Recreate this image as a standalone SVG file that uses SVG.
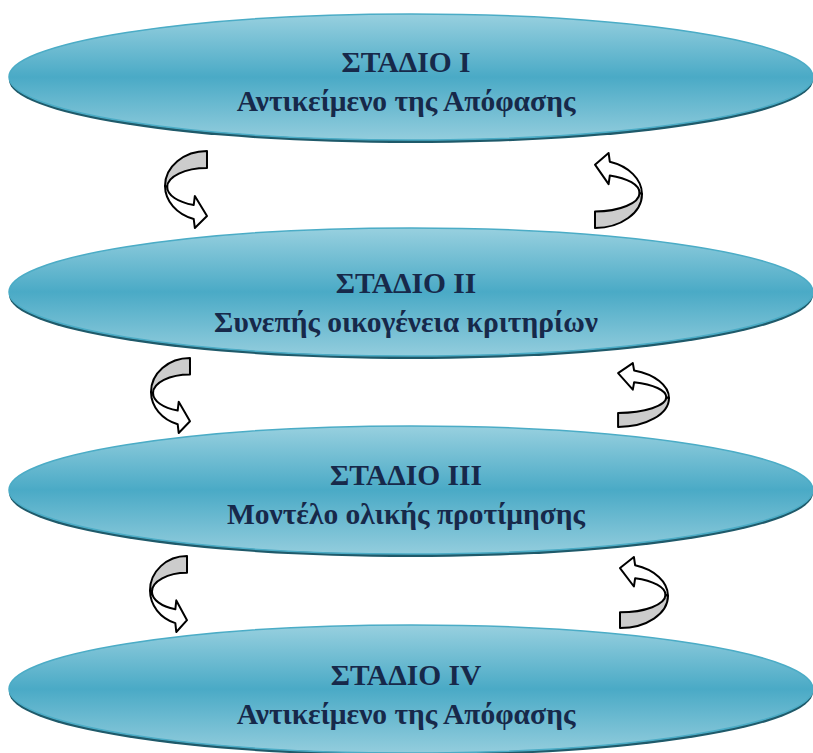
<svg xmlns="http://www.w3.org/2000/svg" width="813" height="753" viewBox="0 0 813 753">
<style>
.shadow{fill:#1f5a6a}
.stage{fill:url(#g);stroke:#4bacc6;stroke-width:1.5}
.t{font-family:"Liberation Serif","DejaVu Serif",serif;font-weight:bold;font-size:29.5px;fill:#17294a;text-anchor:middle}
.back{fill:#cccccc;stroke:#000;stroke-width:2;stroke-linejoin:round;vector-effect:non-scaling-stroke}
.front{fill:#ffffff;stroke:#000;stroke-width:2;stroke-linejoin:round;vector-effect:non-scaling-stroke}
</style>
<defs>
<linearGradient id="g" x1="0" y1="0" x2="0" y2="1">
<stop offset="0" stop-color="#98d0df"/>
<stop offset="0.5" stop-color="#4aaac6"/>
<stop offset="1" stop-color="#93cddd"/>
</linearGradient>
<g id="arr">
<path class="back" d="M38,0 A38,35 0 0 0 0,35 L2,36 A36,19 0 0 1 38,17 Z"/>
<path class="front" d="M0,35 A38,35 0 0 0 26,68 L27,77 L38,65 L27,45 L26,54 A36,19 0 0 1 2,36 Z"/>
</g>
</defs>
<rect width="813" height="753" fill="#ffffff"/>
<g id="stage1">
<ellipse class="shadow" cx="411" cy="80" rx="402" ry="63"/>
<ellipse class="stage" cx="411" cy="77" rx="402" ry="63"/>
<text class="t" x="406" y="72">ΣΤΑΔΙΟ Ι</text>
<text class="t" x="406" y="111">Αντικείμενο της Απόφασης</text>
</g>
<g id="stage2">
<ellipse class="shadow" cx="411" cy="295" rx="402" ry="64"/>
<ellipse class="stage" cx="411" cy="292" rx="402" ry="64"/>
<text class="t" x="406" y="293">ΣΤΑΔΙΟ ΙΙ</text>
<text class="t" x="406" y="332">Συνεπής οικογένεια κριτηρίων</text>
</g>
<g id="stage3">
<ellipse class="shadow" cx="411" cy="493" rx="402" ry="64"/>
<ellipse class="stage" cx="411" cy="490" rx="402" ry="64"/>
<text class="t" x="406" y="485">ΣΤΑΔΙΟ ΙΙΙ</text>
<text class="t" x="406" y="524">Μοντέλο ολικής προτίμησης</text>
</g>
<g id="stage4">
<ellipse class="shadow" cx="411" cy="692" rx="402" ry="64"/>
<ellipse class="stage" cx="411" cy="689" rx="402" ry="64"/>
<text class="t" x="406" y="685">ΣΤΑΔΙΟ IV</text>
<text class="t" x="406" y="724">Αντικείμενο της Απόφασης</text>
</g>
<g id="connectors">
<use href="#arr" transform="translate(165,151) scale(1.105,1)"/>
<use href="#arr" transform="translate(642,228) scale(-1.237,-0.974)"/>
<use href="#arr" transform="translate(151,358) scale(1.026,0.974)"/>
<use href="#arr" transform="translate(669,427) scale(-1.34,-0.83)"/>
<use href="#arr" transform="translate(150,556) scale(0.974,0.987)"/>
<use href="#arr" transform="translate(668,628) scale(-1.263,-0.922)"/>
</g>
</svg>
